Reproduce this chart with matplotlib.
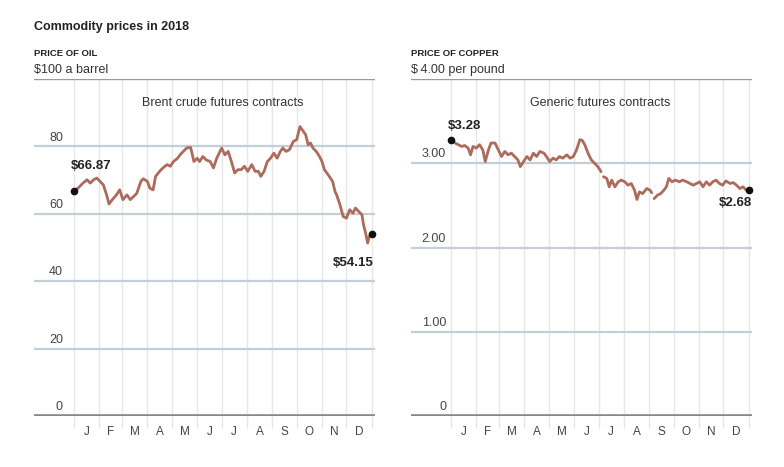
import numpy as np
import matplotlib
matplotlib.use("Agg")
import matplotlib.pyplot as plt

plt.rcParams['font.family'] = ['Liberation Sans', 'DejaVu Sans']

# ---------------- data ----------------
months = ["J", "F", "M", "A", "M", "J", "J", "A", "S", "O", "N", "D"]
month_starts = [0, 31, 59, 90, 120, 151, 181, 212, 243, 273, 304, 334, 365]

oil_day = [0, 5, 11, 16, 20, 24, 28, 32, 36, 40, 43, 47, 52, 56, 60, 65, 69, 73, 77,
           82, 85, 90, 93, 97, 100, 105, 109, 114, 118, 122, 127, 130, 134, 138, 143,
           147, 151, 154, 158, 162, 167, 171, 175, 179, 181, 185, 189, 193, 197, 201,
           205, 209, 213, 218, 222, 226, 229, 233, 237, 241, 245, 249, 253, 256, 260,
           264, 269, 273, 277, 281, 284, 287, 290, 293, 297, 301, 304, 307, 310, 313,
           317, 320, 322, 326, 330, 334, 338, 342, 345, 349, 353, 355, 357, 360, 362, 365]
oil_price = [66.87, 67.6, 69.1, 70.1, 69.1, 70.1, 70.6, 69.6, 68.6, 65.6, 62.9, 64.2,
             65.6, 67.1, 64.2, 65.6, 64.2, 65.1, 66.1, 69.6, 70.4, 69.6, 67.6, 67.1, 71.1,
             72.6, 73.6, 74.6, 74.1, 75.5, 76.5, 77.5, 78.5, 79.5, 79.7, 75.5, 76.5, 75.5,
             77.0, 76.0, 75.5, 73.6, 76.5, 78.5, 79.5, 77.5, 78.5, 75.5, 72.1, 73.1, 73.1,
             74.1, 72.6, 74.6, 72.6, 72.6, 71.1, 72.6, 75.5, 76.5, 78.0, 76.5, 78.5, 79.5,
             78.5, 79.0, 81.5, 82.0, 85.9, 84.5, 83.5, 80.5, 81.0, 79.5, 78.5, 77.0, 75.5,
             73.1, 72.1, 71.1, 69.6, 66.6, 65.6, 62.7, 59.2, 58.7, 61.2, 60.2, 61.7, 60.7,
             59.7, 56.7, 54.8, 51.3, 53.3, 54.15]

copper_day = [0, 5, 9, 13, 17, 21, 24, 27, 31, 35, 39, 42, 46, 49, 54, 58, 62, 66, 70,
              74, 78, 82, 85, 89, 93, 97, 101, 105, 109, 114, 117, 121, 125, 129, 133,
              137, 142, 146, 150, 154, 158, 161, 164, 168, 172, 176, 180, 184, 185.5,
              187, 191, 194, 197, 201, 205, 209, 213, 217, 221, 225, 228, 231, 235, 240,
              244, 246, 247, 249, 253, 257, 261, 264, 267, 271, 275, 280, 284, 289, 293,
              297, 301, 305, 309, 313, 317, 321, 325, 329, 333, 337, 342, 346, 350, 354,
              358, 362, 365]
copper_price = [3.28, 3.24, 3.22, 3.20, 3.21, 3.18, 3.10, 3.20, 3.18, 3.22, 3.16, 3.02,
                3.16, 3.24, 3.24, 3.16, 3.08, 3.14, 3.10, 3.12, 3.08, 3.04, 2.96, 3.02,
                3.08, 3.04, 3.12, 3.08, 3.14, 3.12, 3.08, 3.02, 3.06, 3.04, 3.08, 3.06,
                3.10, 3.06, 3.08, 3.16, 3.28, 3.27, 3.22, 3.12, 3.04, 3.00, 2.96, 2.90,
                np.nan, 2.84, 2.82, 2.72, 2.80, 2.72, 2.78, 2.80, 2.78, 2.74, 2.76, 2.68,
                2.57, 2.66, 2.64, 2.70, 2.68, 2.65, np.nan, 2.58, 2.62, 2.64, 2.68, 2.72,
                2.82, 2.78, 2.80, 2.78, 2.80, 2.78, 2.76, 2.74, 2.76, 2.78, 2.72, 2.78,
                2.74, 2.78, 2.80, 2.76, 2.74, 2.79, 2.76, 2.77, 2.74, 2.70, 2.72, 2.68,
                2.68]

oil_ticks = [0, 20, 40, 60, 80]
oil_ticklabels = ["0", "20", "40", "60", "80"]
copper_ticks = [0, 1, 2, 3]
copper_ticklabels = ["0", "1.00", "2.00", "3.00"]

# ---------------- figure ----------------
W, H = 784, 467
fig = plt.figure(figsize=(W / 100, H / 100), dpi=100)

LINE = '#ad6b5c'
GRID = '#c3ced6'
VGRID = '#e6e6e6'
TXT = '#333333'


def panel(left_px, top_val, ticks, ticklabels, lab_dx, days, vals,
          title, unit, subtitle, start_lab, end_lab, start_off, end_off):
    ax = fig.add_axes([left_px / W, 1 - 416 / H, 341 / W, 337 / H])
    ax.set_xlim(-49, 369)
    ax.set_ylim(0, top_val)
    for s in ax.spines.values():
        s.set_visible(False)
    ax.set_yticks([])
    # vertical month lines
    ax.vlines(month_starts, -top_val * 0.035, top_val, color=VGRID, lw=1,
              clip_on=False, zorder=1)
    # horizontal gridlines
    for t in ticks[1:]:
        ax.axhline(t, color=GRID, lw=1.6, zorder=2)
    ax.axhline(top_val, color='#9a9a9a', lw=1, zorder=2)
    ax.axhline(0, color='#888888', lw=2.6, zorder=2)
    for t, lab in zip(ticks, ticklabels):
        ax.annotate(lab, xy=(lab_dx, t), xytext=(0, 2), textcoords='offset points',
                    ha='right', va='bottom', fontsize=9, color='#444444')
    ax.annotate(unit, xy=(-49, top_val), xytext=(0, 2), textcoords='offset points',
                ha='left', va='bottom', fontsize=9, color=TXT, annotation_clip=False)
    ax.annotate(title, xy=(-49, top_val), xytext=(0, 15), textcoords='offset points',
                ha='left', va='bottom', fontsize=6.8, fontweight='bold', color='#222222',
                annotation_clip=False)
    ax.text(182.5, top_val * 0.93, subtitle, ha='center', va='center', fontsize=9,
            color=TXT)
    # month labels
    mids = [(a + b) / 2 for a, b in zip(month_starts[:-1], month_starts[1:])]
    ax.set_xticks(mids)
    ax.set_xticklabels(months, fontsize=8.5, color='#444444')
    ax.tick_params(axis='x', length=0, pad=7)
    # series
    ax.plot(days, vals, color=LINE, lw=2, zorder=3, solid_capstyle='round')
    ax.plot([days[0], days[-1]], [vals[0], vals[-1]], 'o', color='#111111', ms=4.5,
            zorder=4, clip_on=False)
    ax.annotate(start_lab, xy=(days[0], vals[0]), xytext=start_off,
                textcoords='offset points', ha='left', va='center', fontsize=9.5,
                fontweight='bold', color='#222222')
    ax.annotate(end_lab, xy=(days[-1], vals[-1]), xytext=end_off,
                textcoords='offset points', ha='right', va='center', fontsize=9.5,
                fontweight='bold', color='#222222', annotation_clip=False)
    return ax


panel(34, 100, oil_ticks, oil_ticklabels, -13.5, oil_day, oil_price,
      "PRICE OF OIL", "$100 a barrel", "Brent crude futures contracts",
      "$66.87", "$54.15", (-2.5, 18), (1, -21))
panel(411, 4.0, copper_ticks, copper_ticklabels, -6, copper_day, copper_price,
      "PRICE OF COPPER", "$\u20094.00 per pound", "Generic futures contracts",
      "$3.28", "$2.68", (-2.5, 9.5), (2, -9.5))

fig.text(34 / W, 1 - 27 / H, "Commodity prices in 2018", ha='left', va='center',
         fontsize=9, fontweight='bold', color='#222222')

fig.savefig("out.png", dpi=100)
